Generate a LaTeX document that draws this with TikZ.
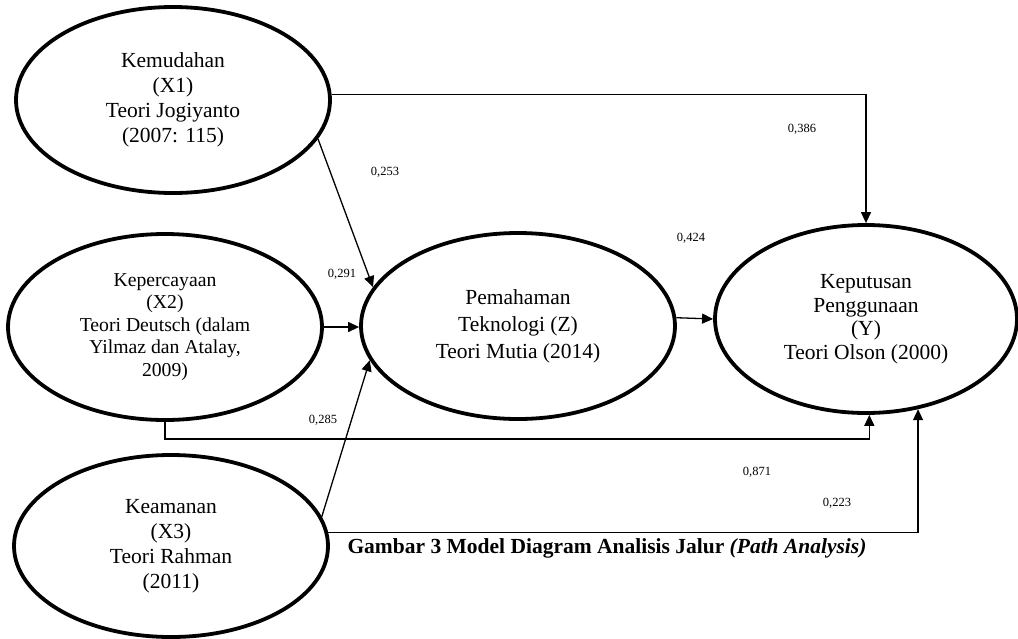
\documentclass[tikz,border=0pt]{standalone}
\usepackage{fontspec}
\setmainfont{Liberation Serif}
\usetikzlibrary{shapes.geometric,arrows.meta,positioning}

\tikzset{
  var/.style={draw, ellipse, line width=3.8pt, inner sep=0pt, align=center,
    minimum width=314pt, minimum height=186pt, font=\fontsize{21.5}{25}\selectfont},
  conn/.style={line width=1.3pt, -{Triangle[length=11pt,width=10pt]}},
  coef/.style={font=\fontsize{12.5}{14}\selectfont, inner sep=0pt},
}

\begin{document}
\begin{tikzpicture}[x=1pt,y=-1pt]
    \useasboundingbox (0,0) rectangle (1018,638);

    % Independent variables
    \node[var] (x1) at (173,100) {Kemudahan\\(X1)\\Teori Jogiyanto\\(2007: 115)};
    \node[var, font=\fontsize{19.7}{22.5}\selectfont] (x2) at (165,327)
        {Kepercayaan\\(X2)\\Teori Deutsch (dalam\\Yilmaz dan Atalay,\\2009)};
    \node[var, minimum height=182pt] (x3) at (171,546) {Keamanan\\(X3)\\Teori Rahman\\(2011)};

    % Intervening and dependent
    \node[var, font=\fontsize{21.5}{27}\selectfont] (z) at (518,326)
        {Pemahaman\\Teknologi (Z)\\Teori Mutia (2014)};
    \node[var, minimum width=302pt, minimum height=188pt, font=\fontsize{21.5}{23.5}\selectfont] (y) at (866,319)
        {Keputusan\\Penggunaan\\(Y)\\Teori Olson (2000)};

    % Paths
    \draw[conn] (x1.2) -| (y.north);
    \draw[conn] (x1.-15) -- (z.165);
    \draw[conn] (x2.east) -- (x2.east -| z.west);
    \draw[conn] (x3.11) -- (z.193);
    \draw[conn] (z.3) -- (y.west);
    \draw[conn] (x2.south) -- ++(0,17) -| (y.-88);
    \draw[conn] (x3.5) -| (y.-60);

    % Coefficients
    \foreach \n/\x/\y in {386/802/129, 253/385/172, 291/342/274, 285/323/420,
                          424/691/238, 871/757/472, 223/837/503} {
        \node[coef] (c\n) at (\x,\y) {0,\n};
    }

    \node[font=\bfseries\fontsize{21.5}{25}\selectfont] (cap) at (607,548)
        {Gambar 3 Model Diagram Analisis Jalur \textit{(Path Analysis)}};
\end{tikzpicture}
\end{document}
